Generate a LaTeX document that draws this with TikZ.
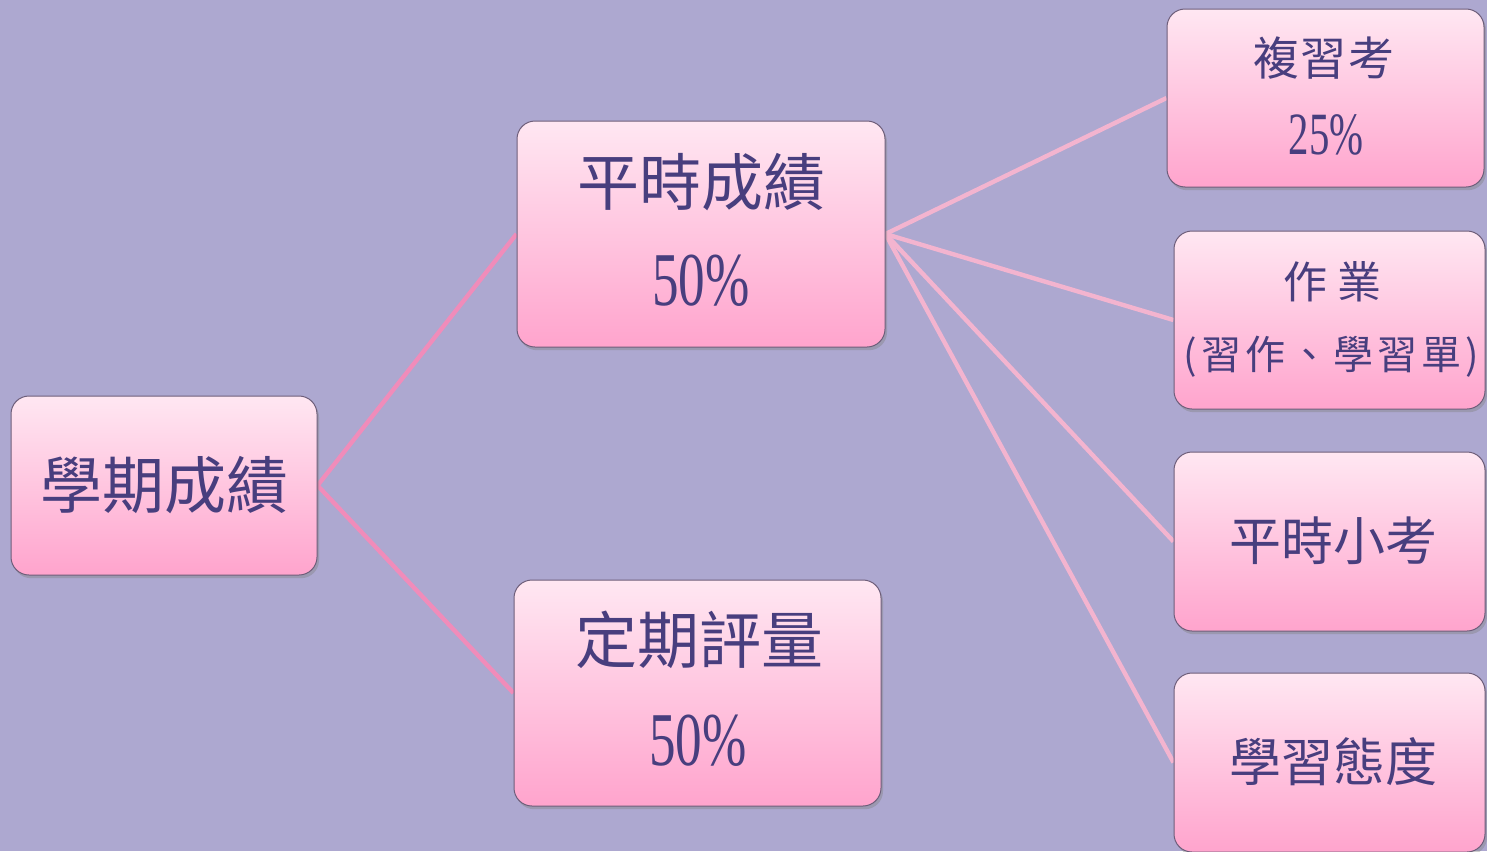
\documentclass[tikz,border=0pt]{standalone}
\usepackage{fontspec}
\newfontfamily\cjk{Noto Sans CJK TC}
\newfontfamily\numfont{Liberation Serif}
\usetikzlibrary{shadows,backgrounds}
\definecolor{bgcol}{RGB}{173,168,208}
\definecolor{boxtop}{RGB}{255,231,242}
\definecolor{boxbot}{RGB}{255,164,205}
\definecolor{boxline}{RGB}{110,94,122}
\definecolor{ink}{RGB}{72,62,126}
\definecolor{linkA}{RGB}{240,140,186}
\definecolor{linkB}{RGB}{243,180,207}
\newcommand{\pct}[3]{\scalebox{#1}[1]{\numfont\fontsize{#2}{#2}\selectfont #3}}
\newcommand{\gap}{\hspace{2pt}}
\tikzset{
	box/.style={rectangle,rounded corners=9pt,draw=boxline,line width=0.5pt,
		top color=boxtop,bottom color=boxbot,inner sep=0pt,
		drop shadow={shadow xshift=1pt,shadow yshift=-1.6pt,opacity=0.4}},
	txt/.style={text=ink,inner sep=0pt,font=\cjk},
	lvlone/.style={draw=linkA,line width=2.2pt},
	lvltwo/.style={draw=linkB,line width=2.2pt}
}
\begin{document}
\begin{tikzpicture}[x=0.5pt,y=-0.5pt]
	\useasboundingbox (0,0) rectangle (1487,851);
	\begin{scope}[on background layer]
	\fill[bgcol] (0,0) rectangle (1487,851);
	\end{scope}
	\clip (0,0) rectangle (1487,851);
	
	\begin{scope}[every node/.style={box}]
	\node (S) at (164,485.5) [minimum width=153pt,minimum height=89.5pt]{};
	\node (D) at (701,234) [minimum width=184pt,minimum height=113pt]{};
	\node (E) at (697.5,693) [minimum width=183.5pt,minimum height=113pt]{};
	\node (R) at (1325.5,98) [minimum width=158.5pt,minimum height=89pt]{};
	\node (H) at (1329.5,320) [minimum width=155.5pt,minimum height=89pt]{};
	\node (Q) at (1329.5,541.5) [minimum width=155.5pt,minimum height=89.5pt]{};
	\node (A) at (1329.5,762.5) [minimum width=155.5pt,minimum height=89.5pt]{};
	\end{scope}
	
	\begin{scope}[every node/.style={txt}]
	\node (S1) at (164,485) {\fontsize{31}{31}\selectfont 學期成績};
	\node (D1) at (701,182) {\fontsize{31}{31}\selectfont 平時成績};
	\node (D2) at (701,281) {\pct{0.7}{38}{50\%}};
	\node (E1) at (699.5,640) {\fontsize{31}{31}\selectfont 定期評量};
	\node (E2) at (698,741) {\pct{0.7}{38}{50\%}};
	\node (R1) at (1324,58) {\fontsize{23}{23}\selectfont 複\hspace{1pt}習\hspace{1pt}考};
	\node (R2) at (1326,135) {\pct{0.68}{30}{25\%}};
	\node (H1) at (1332,282) {\fontsize{22}{22}\selectfont 作\hspace{5pt}業};
	\node (H2) at (1331.5,357) {\fontsize{20}{20}\selectfont (\gap 習\gap 作\gap 、\gap 學\gap 習\gap 單\gap )};
	\node (Q1) at (1333,541) {\fontsize{26}{26}\selectfont 平時小考};
	\node (A1) at (1333,762) {\fontsize{26}{26}\selectfont 學習態度};
	\end{scope}
	
	\begin{scope}[on background layer]
	\path (S.east) edge[lvlone] (D.west);
	\path (S.east) edge[lvlone] (E.west);
	\path (D.east) edge[lvltwo] (R.west);
	\path (D.east) edge[lvltwo] (H.west);
	\path (D.east) edge[lvltwo] (Q.west);
	\path (D.east) edge[lvltwo] (A.west);
	\end{scope}
\end{tikzpicture}
\end{document}
